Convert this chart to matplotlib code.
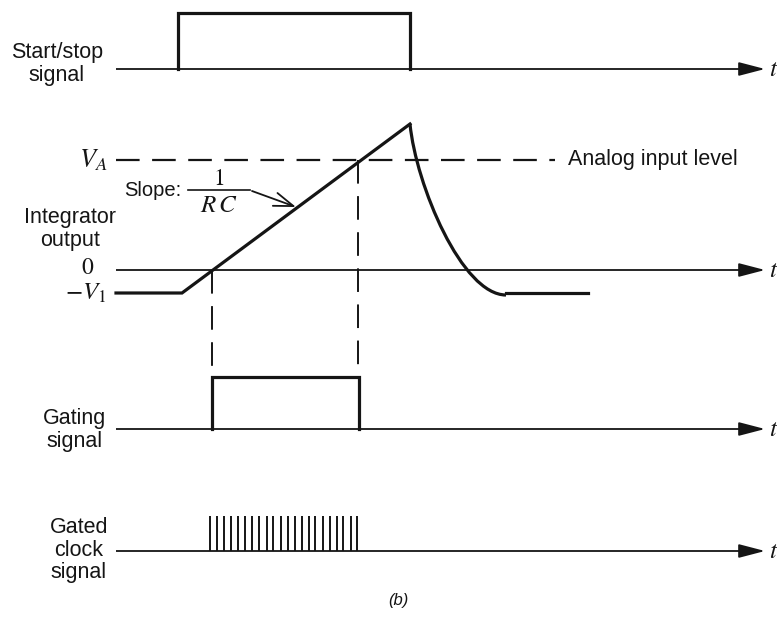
import matplotlib.pyplot as plt
from matplotlib.path import Path
from matplotlib.patches import PathPatch

plt.rcParams['font.family'] = ['Liberation Sans', 'DejaVu Sans']
plt.rcParams['mathtext.fontset'] = 'stix'
plt.rcParams['lines.scale_dashes'] = False

# Drawing works in pixel units of the 777x624 picture (y grows downward)
axis_x0, axis_x1 = 116, 765

# Start/stop signal
startstop_base, startstop_high = 69, 13
startstop_times = [178, 410]

# Integrator output
level_zero, level_va, level_v1 = 270, 160, 293
ramp_x = [116, 182, 410]
ramp_y = [level_v1, level_v1, 124]
decay_pts = [(410, 124), (416, 185), (462, 295), (506, 295)]
tail_x = [506, 588]
va_line_end = 555
cross_zero_x, cross_va_x = 212, 358

# Gating signal
gate_base, gate_high = 429, 377
gate_times = [212, 359]

# Gated clock signal
clock_base, clock_top = 551, 516
clock_pulses = [210, 217, 224, 231, 238, 245, 252, 259, 267, 273, 281,
                288, 295, 302, 309, 315, 323, 330, 337, 343, 351, 357]

ink = '#151515'
thick, thin = 2.3, 1.3
dash = (0, (17, 9))
label_size = 15.5

fig = plt.figure(figsize=(7.77, 6.24), dpi=100)
ax = fig.add_axes([0, 0, 1, 1])
ax.set_xlim(0, 777)
ax.set_ylim(624, 0)
ax.axis('off')


def time_axis(y):
    ax.plot([axis_x0, axis_x1 - 12], [y, y], color=ink, lw=thin, solid_capstyle='butt')
    ax.annotate('', xy=(axis_x1, y), xytext=(axis_x1 - 24, y),
                arrowprops=dict(arrowstyle='-|>,head_length=1.15,head_width=0.3',
                                mutation_scale=14, lw=thin, color=ink,
                                shrinkA=0, shrinkB=0))
    ax.text(axis_x1 + 4, y, '$t$', fontsize=18, va='center', ha='left', color=ink)


def side_label(x, y, s):
    ax.text(x, y, s, fontsize=label_size, ha='center', va='center',
            linespacing=1.1, color=ink)


# Start/stop
time_axis(startstop_base)
ax.plot([startstop_times[0], startstop_times[0], startstop_times[1], startstop_times[1]],
        [startstop_base, startstop_high, startstop_high, startstop_base],
        color=ink, lw=thick, solid_joinstyle='miter')
side_label(57, 64, 'Start/stop\nsignal')

# Integrator
time_axis(level_zero)
ax.plot([axis_x0, va_line_end], [level_va, level_va], color=ink, lw=1.6, ls=dash)
ax.plot(ramp_x, ramp_y, color=ink, lw=thick, solid_joinstyle='miter')
codes = [Path.MOVETO, Path.CURVE4, Path.CURVE4, Path.CURVE4]
ax.add_patch(PathPatch(Path(decay_pts, codes), fill=False, ec=ink, lw=thick))
ax.plot(tail_x, [level_v1, level_v1], color=ink, lw=thick)
ax.plot([cross_zero_x, cross_zero_x], [level_zero, gate_high], color=ink, lw=1.4, ls=dash)
ax.plot([cross_va_x, cross_va_x], [level_va, gate_high], color=ink, lw=1.4, ls=dash)

ax.text(108, 160, '$V_A$', fontsize=19, ha='right', va='center', color=ink)
ax.text(568, 159, 'Analog input level', fontsize=label_size, ha='left', va='center', color=ink)
ax.text(153, 190, 'Slope:', fontsize=14.5, ha='center', va='center', color=ink)
ax.plot([188, 250], [190, 190], color=ink, lw=1.2)
ax.text(219, 179, '$1$', fontsize=17, ha='center', va='center', color=ink)
ax.text(219, 205, '$R\\,C$', fontsize=18, ha='center', va='center', color=ink)
ax.annotate('', xy=(296, 207), xytext=(252, 191),
            arrowprops=dict(arrowstyle='->,head_length=1.0,head_width=0.35',
                            mutation_scale=14, lw=1.3, color=ink,
                            shrinkA=0, shrinkB=0))
side_label(70, 229, 'Integrator\noutput')
ax.text(88, 268, '$0$', fontsize=17, ha='center', va='center', color=ink)
ax.text(106, 293, '$-V_1$', fontsize=18, ha='right', va='center', color=ink)

# Gating
time_axis(gate_base)
ax.plot([gate_times[0], gate_times[0], gate_times[1], gate_times[1]],
        [gate_base, gate_high, gate_high, gate_base],
        color=ink, lw=thick, solid_joinstyle='miter')
side_label(75, 430, 'Gating\nsignal')

# Gated clock
time_axis(clock_base)
ax.vlines(clock_pulses, clock_base, clock_top, color=ink, lw=1.4)
side_label(79, 550, 'Gated\nclock\nsignal')

ax.text(398, 600, '(b)', fontsize=12, style='italic', ha='center', va='center', color=ink)

fig.savefig('out.png', dpi=100)
